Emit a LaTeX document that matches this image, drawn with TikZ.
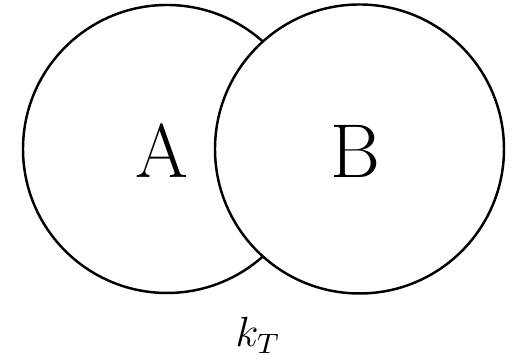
\documentclass[tikz,border=0pt]{standalone}
\usepackage{amsmath}
\usepackage{tikz}

\begin{document}
\begin{tikzpicture}
\useasboundingbox (0,0) rectangle (5.13,3.62);

% Circle A
\draw[line width=0.7pt] (1.67,2.13) circle (1.44);
\node[font=\fontsize{21.7}{26}\selectfont] (labA) at (1.62,2.11) {A};

% Circle B (drawn over A)
\draw[line width=0.7pt,fill=white] (3.595,2.13) circle (1.445);
\node[font=\fontsize{21.7}{26}\selectfont] (labB) at (3.55,2.11) {B};

% Label below
\node[anchor=base,font=\fontsize{11.5}{13}\selectfont] (kT) at (2.58,0.15) {$k_T$};

\end{tikzpicture}
\end{document}
